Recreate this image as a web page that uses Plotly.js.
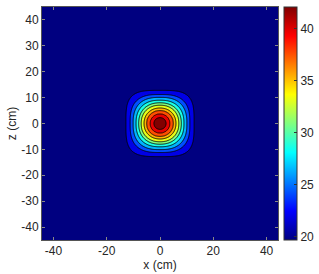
<!DOCTYPE html>
<html>
<head>
<meta charset="utf-8">
<script src="https://cdn.plot.ly/plotly-3.0.1.min.js"></script>
<style>html,body{margin:0;padding:0;background:#fff;}#chart{width:319px;height:274px;}</style>
</head>
<body>
<div id="chart"></div>
<script>
// Contour levels (lines), outer to inner
const levels = [22, 24, 26, 28, 30, 32, 34, 36, 38, 40];
// Half-width of each contour ring along the x/z axes (cm), outer to inner
const axialRadius = [12.8, 11.2, 10.1, 9.0, 8.0, 7.1, 6.0, 5.05, 3.75, 2.3];
// Ratio of the ring's diagonal radius to its axial radius (squareness), outer to inner
const diagRatio = [1.17, 1.11, 1.08, 1.06, 1.04, 1.03, 1.02, 1.01, 1.0, 1.0];
const peakValue = 42.1;
const backgroundValue = 19.7;
const xTicks = [-40, -20, 0, 20, 40];
const zTicks = [-40, -30, -20, -10, 0, 10, 20, 30, 40];
const cbarTicks = [20, 25, 30, 35, 40];

const jet = [[0,'rgb(0,0,128)'],[0.125,'rgb(0,0,255)'],[0.375,'rgb(0,255,255)'],
             [0.625,'rgb(255,255,0)'],[0.875,'rgb(255,0,0)'],[1,'rgb(128,0,0)']];

// Build the grid the contour trace needs from the ring table
const step = 0.4;
const xs = [], zs = [];
for (let v = -46; v <= 46.0001; v += step) { xs.push(+v.toFixed(2)); zs.push(+v.toFixed(2)); }
const exps = diagRatio.map(k => 1 / (0.5 - Math.log2(k)));
function ringRho(ax, az, i) {
  const p = exps[i];
  return Math.pow(Math.pow(ax, p) + Math.pow(az, p), 1 / p) / axialRadius[i];
}
const grid = zs.map(z => xs.map(x => {
  const ax = Math.abs(x), az = Math.abs(z);
  const rho = levels.map((L, i) => ringRho(ax, az, i));
  const n = levels.length;
  if (rho[0] >= 1) {
    return Math.max(backgroundValue, levels[0] - (levels[0] - backgroundValue) * (rho[0] - 1) / 0.15);
  }
  if (rho[n - 1] < 1) {
    return levels[n - 1] + (peakValue - levels[n - 1]) * (1 - rho[n - 1] * rho[n - 1]);
  }
  for (let j = 0; j < n - 1; j++) {
    if (rho[j] < 1 && rho[j + 1] >= 1) {
      return levels[j] + (levels[j + 1] - levels[j]) * (1 - rho[j]) / (rho[j + 1] - rho[j]);
    }
  }
  return levels[0];
}));

const font = {family: 'Liberation Sans, Arial, sans-serif', size: 12, color: '#262626'};

const contour = {
  type: 'contour', x: xs, y: zs, z: grid,
  autocontour: false,
  contours: {start: levels[0], end: levels[levels.length - 1], size: levels[1] - levels[0], coloring: 'fill', showlines: true},
  line: {color: '#000', width: 0.9, smoothing: 0},
  colorscale: jet, showscale: false, hoverinfo: 'skip'
};
const cbarTrace = {
  type: 'scatter', mode: 'markers', x: [1000, 1000], y: [1000, 1000],
  showlegend: false, hoverinfo: 'skip',
  marker: {color: [backgroundValue, peakValue], cmin: backgroundValue, cmax: peakValue,
    colorscale: jet, showscale: true, size: 1,
    colorbar: {x: 242 / 236, xanchor: 'left', xpad: 0, ypad: 0, y: 0.5, yanchor: 'middle',
      len: 1, lenmode: 'fraction', thickness: 13, outlinewidth: 1, outlinecolor: '#333',
      tickvals: cbarTicks, ticktext: cbarTicks.map(String), ticks: 'inside', ticklen: 3,
      tickcolor: '#333', tickfont: font}}
};
const axisCommon = {showgrid: false, zeroline: false, showline: true, linecolor: '#555', linewidth: 1,
  mirror: 'ticks', ticks: 'inside', ticklen: 3, tickcolor: '#888', tickfont: font};
const layout = {
  width: 319, height: 274,
  margin: {l: 42, r: 41, t: 7, b: 34, autoexpand: false},
  paper_bgcolor: '#fff', plot_bgcolor: 'rgb(0,0,128)',
  font: font,
  showlegend: false,
  xaxis: Object.assign({}, axisCommon, {range: [-44.3, 44.3], tickvals: xTicks, ticktext: xTicks.map(String),
    title: {text: 'x (cm)', font: font, standoff: 2}}),
  yaxis: Object.assign({}, axisCommon, {range: [-45, 45], tickvals: zTicks, ticktext: zTicks.map(String),
    title: {text: 'z (cm)', font: font, standoff: 2}})
};
Plotly.newPlot('chart', [contour, cbarTrace], layout, {staticPlot: true, displayModeBar: false});
</script>
</body>
</html>
